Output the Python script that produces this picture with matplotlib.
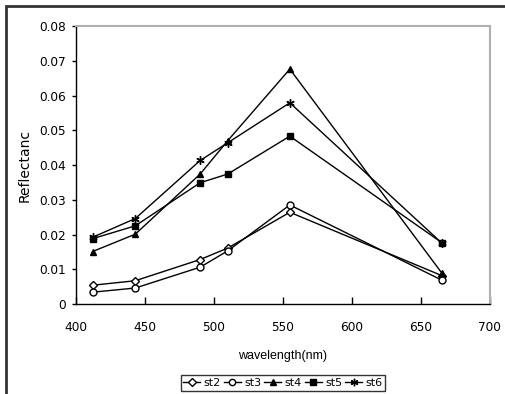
import numpy as np
import matplotlib.pyplot as plt
from matplotlib.patches import Rectangle

# wavelengths (nm) and reflectance per station
wavelength = [412, 443, 490, 510, 555, 665]
st2 = [0.0054, 0.0067, 0.0128, 0.0161, 0.0264, 0.0082]
st3 = [0.0034, 0.0046, 0.0106, 0.0153, 0.0285, 0.0069]
st4 = [0.0151, 0.0201, 0.0374, 0.0470, 0.0676, 0.0090]
st5 = [0.0188, 0.0225, 0.0349, 0.0374, 0.0483, 0.0177]
st6 = [0.0192, 0.0246, 0.0413, 0.0464, 0.0579, 0.0176]

series = [('st2', st2, 'D', 'white', 4), ('st3', st3, 'o', 'white', 5),
          ('st4', st4, '^', 'black', 5), ('st5', st5, 's', 'black', 4.5),
          ('st6', st6, (6, 2, 0), 'black', 6)]

fig = plt.figure(figsize=(5.05, 3.94), dpi=100)
ax = fig.add_axes([0.1505, 0.2284, 0.8195, 0.7056])

for name, vals, mk, fc, ms in series:
    ax.plot(wavelength, vals, color='black', lw=1, marker=mk, markersize=ms,
            markerfacecolor=fc, markeredgecolor='black', markeredgewidth=1,
            label=name)

ax.set_xlim(400, 700)
ax.set_ylim(0, 0.08)
ax.set_xticks(np.arange(400, 701, 50))
ax.set_yticks(np.arange(0, 0.081, 0.01))
ax.set_yticklabels(['0', '0.01', '0.02', '0.03', '0.04', '0.05', '0.06', '0.07', '0.08'])

ax.tick_params(axis='x', direction='in', length=5, width=1, pad=12, labelsize=8.7)
ax.tick_params(axis='y', direction='out', length=3, width=1, pad=4, labelsize=8.7)
for s in ['top', 'right']:
    ax.spines[s].set_color('#b0b0b0')
    ax.spines[s].set_linewidth(1.5)
for s in ['left', 'bottom']:
    ax.spines[s].set_color('black')
    ax.spines[s].set_linewidth(1)

ax.set_xlabel('wavelength(nm)', family='Liberation Sans', fontsize=9, labelpad=12)
ax.set_ylabel('Reflectanc', fontsize=10, labelpad=6)

leg = fig.legend(loc='center', bbox_to_anchor=(283 / 505, 1 - 383 / 394), ncol=5,
                 fontsize=8, frameon=True, fancybox=False, edgecolor='black',
                 handlelength=1.5, handletextpad=0.3, columnspacing=0.3,
                 borderpad=0.25, borderaxespad=0, markerscale=0.9)
leg.get_frame().set_linewidth(1)

# outer frame of the chart
fig.patches.append(Rectangle((6 / 505, -0.1), 1.1, 1.1 - 6.5 / 394,
                             transform=fig.transFigure, fill=False,
                             edgecolor='#333333', lw=2))

fig.savefig('out.png', dpi=100)
